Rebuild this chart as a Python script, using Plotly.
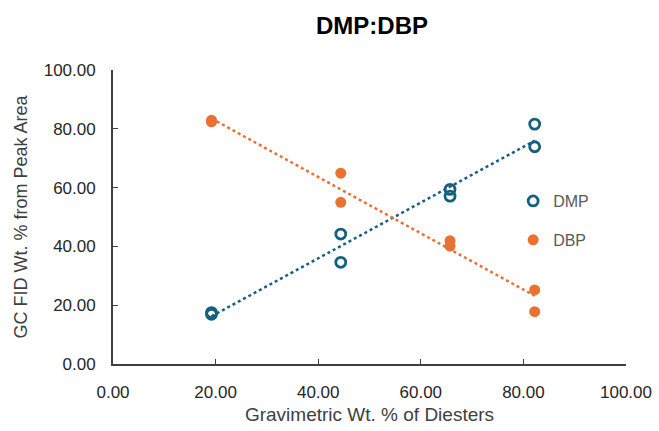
import numpy as np
import plotly.graph_objects as go

# Data
gravimetric_x = [19.2, 19.2, 44.4, 44.4, 65.7, 65.7, 82.2, 82.2]
dmp_y = [17.5, 16.9, 44.2, 34.6, 59.4, 57.1, 81.6, 73.9]
dbp_y = [82.4, 82.9, 55.0, 64.9, 40.1, 41.9, 17.8, 25.2]

tick_vals = [0, 20, 40, 60, 80, 100]

BLUE = "#156082"
ORANGE = "#E97132"
FONT = "Liberation Sans, Arial, sans-serif"

fig = go.Figure()

# Linear trendlines
x_arr = np.array(gravimetric_x)
xs = np.array([min(gravimetric_x), max(gravimetric_x)])
for yvals, color in [(dmp_y, BLUE), (dbp_y, ORANGE)]:
    m, b = np.polyfit(x_arr, np.array(yvals), 1)
    fig.add_trace(go.Scatter(x=xs, y=m * xs + b, mode="lines",
                             line=dict(color=color, width=2.5, dash="dot"),
                             showlegend=False, hoverinfo="skip"))

fig.add_trace(go.Scatter(x=gravimetric_x, y=dmp_y, mode="markers", name="DMP",
                         legendgroup="a",
                         marker=dict(symbol="circle-open", size=10, color=BLUE,
                                     line=dict(width=2.8, color=BLUE))))
fig.add_trace(go.Scatter(x=gravimetric_x, y=dbp_y, mode="markers", name="DBP",
                         legendgroup="b",
                         marker=dict(symbol="circle", size=11, color=ORANGE)))

axis_common = dict(range=[0, 100], tickvals=tick_vals, tickformat=".2f",
                   showgrid=False, zeroline=False, showline=True,
                   linecolor="#404040", linewidth=1.8, ticks="inside",
                   ticklen=5, tickcolor="#404040", tickwidth=1.4,
                   tickfont=dict(family=FONT, size=17, color="#262626"),
                   automargin=False, fixedrange=True)

fig.update_layout(
    width=659, height=431,
    margin=dict(l=113, r=33, t=70, b=67),
    paper_bgcolor="white", plot_bgcolor="white",
    title=dict(text="<b>DMP:DBP</b>", x=372 / 659, xanchor="center",
               y=1 - 25.5 / 431, yanchor="middle",
               font=dict(family=FONT, size=24, color="black")),
    xaxis=dict(**axis_common, ticklabelstandoff=12,
               title=dict(text="Gravimetric Wt. % of Diesters", standoff=6,
                          font=dict(family=FONT, size=19, color="#404040"))),
    yaxis=dict(**axis_common, ticklabelstandoff=12,
               title=dict(text="GC FID Wt. % from Peak Area", standoff=11,
                          font=dict(family=FONT, size=18, color="#404040"))),
    legend=dict(x=0.78, y=0.612, xanchor="left", yanchor="top",
                bgcolor="rgba(0,0,0,0)", tracegroupgap=15,
                font=dict(family=FONT, size=16, color="#595959"),
                itemwidth=30),
    showlegend=True,
)

fig.write_html("out.html", config={"displayModeBar": False},
               post_script="document.body.style.margin='0';document.body.style.overflow='hidden';")
